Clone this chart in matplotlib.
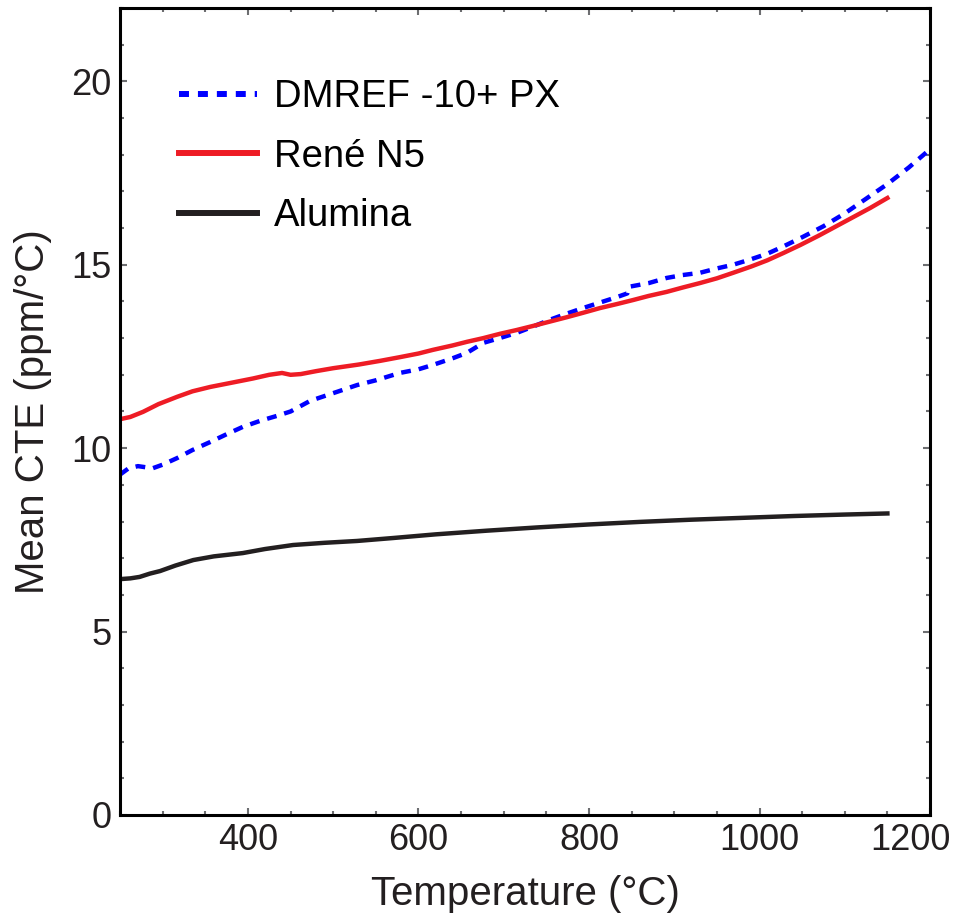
import matplotlib
matplotlib.use("Agg")
import matplotlib.pyplot as plt
from matplotlib.ticker import MultipleLocator, FixedLocator
from matplotlib.transforms import ScaledTranslation

plt.rcParams['font.family'] = ['Liberation Sans', 'DejaVu Sans']

# Mean coefficient of thermal expansion vs temperature
temp_dmref = [250, 260, 271, 280, 288, 300, 317, 335, 356, 375, 394, 415, 434, 450,
              473, 500, 528, 550, 578, 600, 617, 640, 657, 676, 695, 715, 735, 754,
              773, 793, 813, 833, 845, 847, 870, 891, 910, 930, 950, 969, 990, 1009,
              1028, 1050, 1075, 1100, 1125, 1150, 1175, 1200]
cte_dmref = [9.28, 9.45, 9.51, 9.48, 9.45, 9.55, 9.73, 9.95, 10.17, 10.38, 10.58, 10.75,
             10.88, 11.0, 11.29, 11.5, 11.72, 11.85, 12.05, 12.15, 12.27, 12.45, 12.6,
             12.87, 13.0, 13.14, 13.32, 13.5, 13.66, 13.82, 13.97, 14.12, 14.22, 14.4,
             14.5, 14.64, 14.72, 14.78, 14.9, 15.0, 15.15, 15.3, 15.5, 15.75, 16.05,
             16.4, 16.8, 17.2, 17.65, 18.15]

temp_rene = [250, 262, 277, 295, 317, 335, 356, 380, 406, 425, 440, 450, 462, 480, 500,
             530, 555, 578, 600, 617, 640, 657, 676, 696, 715, 734, 754, 774, 793, 813,
             833, 852, 870, 891, 910, 930, 950, 969, 990, 1009, 1028, 1048, 1070, 1090,
             1110, 1130, 1150]
cte_rene = [10.79, 10.85, 10.99, 11.2, 11.40, 11.55, 11.67, 11.78, 11.9, 12.0, 12.05,
            12.0, 12.02, 12.1, 12.18, 12.28, 12.38, 12.48, 12.58, 12.68, 12.8, 12.9,
            13.0, 13.12, 13.22, 13.33, 13.45, 13.57, 13.69, 13.82, 13.93, 14.04, 14.15,
            14.26, 14.38, 14.5, 14.63, 14.78, 14.95, 15.12, 15.32, 15.54, 15.8, 16.05,
            16.3, 16.55, 16.82]

temp_alumina = [250, 262, 273, 285, 297, 315, 336, 360, 394, 420, 453, 490, 528, 570,
                620, 680, 740, 800, 860, 920, 980, 1040, 1100, 1150]
cte_alumina = [6.43, 6.45, 6.49, 6.58, 6.65, 6.8, 6.95, 7.05, 7.14, 7.25, 7.36, 7.42,
               7.47, 7.55, 7.65, 7.75, 7.84, 7.92, 7.99, 8.05, 8.1, 8.15, 8.19, 8.22]

series_labels = ["DMREF -10+ PX", "René N5", "Alumina"]
x_ticks = [400, 600, 800, 1000, 1200]
y_ticks = [0, 5, 10, 15, 20]

text_color = '#231f20'
tick_color = '#6d6e71'

fig = plt.figure(figsize=(9.58, 9.19), dpi=100)
ax = fig.add_axes([0.1253, 0.1132, 0.8455, 0.8781])

ax.plot(temp_dmref, cte_dmref, color='#0000ff', lw=3.2, dashes=(2.2, 1.8),
        label=series_labels[0])
ax.plot(temp_rene, cte_rene, color='#ee1c25', lw=3.2, label=series_labels[1])
ax.plot(temp_alumina, cte_alumina, color=text_color, lw=3.2, label=series_labels[2])

ax.set_xlim(250, 1200)
ax.set_ylim(0, 22)
ax.xaxis.set_major_locator(FixedLocator(x_ticks))
ax.xaxis.set_minor_locator(MultipleLocator(50))
ax.yaxis.set_major_locator(FixedLocator(y_ticks))
ax.yaxis.set_minor_locator(MultipleLocator(1))

for s in ax.spines.values():
    s.set_linewidth(2.2)
    s.set_color('black')

ax.tick_params(which='both', direction='in', top=True, right=True, color=tick_color,
               width=1.5, labelsize=26, labelcolor=text_color, pad=6)
ax.tick_params(which='major', length=5)
ax.tick_params(which='minor', length=3)

ax.set_xlabel("Temperature (°C)", fontsize=29, color=text_color, labelpad=12)
ax.set_ylabel("Mean CTE (ppm/°C)", fontsize=29, color=text_color, labelpad=14)

leg = ax.legend(loc='upper left', bbox_to_anchor=(0.073, 0.912), frameon=False,
                fontsize=27.5, handlelength=2.05, handletextpad=0.42, labelspacing=0.62,
                borderpad=0, borderaxespad=0)
for t in leg.get_texts():
    t.set_color('black')
leg_lines = leg.get_lines()
for ln in leg_lines:
    ln.set_linewidth(4.3)
leg_lines[0].set_dashes((1.67, 1.5))

fig.canvas.draw()
last = ax.xaxis.get_major_ticks()[-1].label1
last.set_transform(last.get_transform() + ScaledTranslation(-0.2, 0, fig.dpi_scale_trans))

fig.savefig("out.png", dpi=100)
